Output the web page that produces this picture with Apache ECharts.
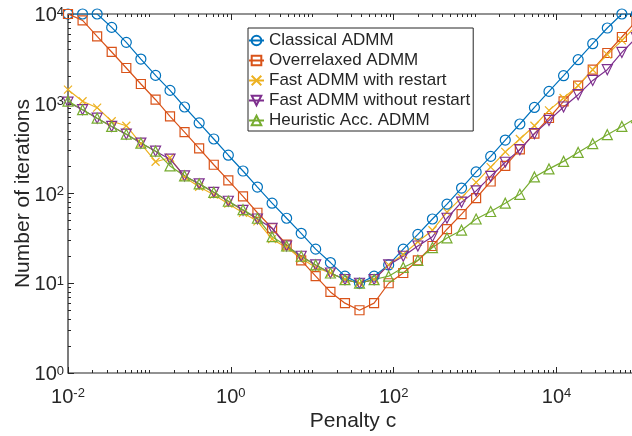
<!DOCTYPE html>
<html>
<head>
<meta charset="utf-8">
<script src="https://cdn.jsdelivr.net/npm/echarts@6/dist/echarts.min.js"></script>
<style>
  html, body { margin: 0; padding: 0; background: #fff; }
  #chart { width: 632px; height: 436px; }
</style>
</head>
<body>
<div id="chart"></div>
<script>
// penalty parameter c (x grid, log spaced)
var penalty = [0.01, 0.0151, 0.0228, 0.0344, 0.052, 0.0785, 0.119, 0.179, 0.270, 0.408,
    0.617, 0.931, 1.41, 2.12, 3.21, 4.84, 7.31, 11.0, 16.7, 25.2,
    38.0, 57.4, 86.7, 131, 198, 299, 451, 681, 1028, 1552,
    2344, 3540, 5346, 8072, 12190, 18410, 27800, 41980, 63390, 95710];

// number of iterations per method
var classical = [10000, 10000, 10000, 7090, 4830, 3150, 2070, 1409, 920, 611,
    405, 267, 178, 118, 78, 53, 36, 24, 17, 12,
    10, 12, 16, 24, 35, 52, 76, 115, 174, 259,
    394, 595, 910, 1373, 2054, 3097, 4669, 6980, 10000, 10000];
var overrelaxed = [10000, 8490, 5625, 3775, 2503, 1660, 1109, 723, 484, 318,
    209, 140, 93, 61, 41, 27, 18, 12, 8, 6,
    5, 6, 10, 13, 18, 26, 40, 59, 89, 136,
    203, 310, 464, 694, 1062, 1589, 2395, 3675, 5545, 8355];
var fastRestart = [1435, 1067, 904, 639, 569, 359, 226, 250, 152, 119,
    97, 77, 61, 49, 31, 25, 19, 15, 13, 11,
    10, 11, 16, 21, 29, 39, 62, 90, 133, 197,
    291, 405, 569, 844, 1159, 1589, 2395, 3521, 5080, 7410];
var fastNoRestart = [1040, 859, 690, 559, 458, 365, 296, 241, 157, 128,
    103, 82, 65, 52, 41, 26, 20, 16, 13, 11,
    10, 11, 16, 20, 26, 33, 53, 80, 107, 155,
    223, 308, 464, 652, 920, 1262, 1820, 2395, 3733, 5445];
var heuristic = [1070, 859, 690, 559, 458, 365, 296, 203, 157, 128,
    103, 82, 66, 53, 33, 26, 20, 16, 13, 11,
    10, 11, 12, 15, 18, 25, 32, 39, 52, 63,
    78, 98, 153, 188, 228, 287, 359, 452, 559, 700];

var names = ['Classical ADMM', 'Overrelaxed ADMM', 'Fast ADMM with restart',
    'Fast ADMM without restart', 'Heuristic Acc. ADMM'];

// tick labels
var xMajor = [0.01, 1, 100, 10000];
var yMajor = [1, 10, 100, 1000, 10000];

var FONT = 'Liberation Sans';
var INK = '#262626';

// minor ticks 2..9 of each decade (plus odd decades on x, as matlab does)
function minorTicks(lo, hi, skip) {
    var out = [];
    for (var d = lo; d < hi; d++) {
        for (var m = 1; m <= 9; m++) {
            var v = m * Math.pow(10, d);
            if (m == 1 && skip.indexOf(v) >= 0) continue;
            out.push(+v.toPrecision(6));
        }
    }
    return out;
}
var xMinor = minorTicks(-2, 5, xMajor);
var yMinor = minorTicks(0, 4, yMajor);

function pairs(ys) {
    var d = [];
    for (var i = 0; i < ys.length; i++) d.push([penalty[i], ys[i]]);
    return d;
}

function supLabel(v) {
    return '{b|10}{s|' + Math.round(Math.log10(v)) + '}';
}
var rich = {
    b: { fontSize: 20, lineHeight: 20, fontFamily: FONT, color: INK },
    s: { fontSize: 13, lineHeight: 10, verticalAlign: 'top', fontFamily: FONT, color: INK }
};

// grid 0 carries the data and the major ticks, grid 1 only the minor ticks
function xAx(grid, pos, ticks, len, withLabel) {
    return {
        type: 'log', gridIndex: grid, position: pos, min: 0.01, max: 100000,
        axisLine: { show: false, onZero: false },
        axisTick: { show: true, inside: true, length: len, customValues: ticks,
            lineStyle: { color: INK, width: 1 } },
        axisLabel: { show: withLabel, customValues: ticks, margin: 14, formatter: supLabel, rich: rich },
        splitLine: { show: false },
        name: withLabel ? 'Penalty c' : '',
        nameLocation: 'middle', nameGap: 38, nameMoveOverlap: false,
        nameTextStyle: { fontSize: 21, fontFamily: FONT, color: INK }
    };
}
function yAx(grid, pos, ticks, len, withLabel) {
    return {
        type: 'log', gridIndex: grid, position: pos, min: 1, max: 10000,
        axisLine: { show: false, onZero: false },
        axisTick: { show: true, inside: true, length: len, customValues: ticks,
            lineStyle: { color: INK, width: 1 } },
        axisLabel: { show: withLabel, customValues: ticks, margin: 4, padding: [3, 0, 0, 0],
            formatter: supLabel, rich: rich },
        splitLine: { show: false },
        name: withLabel ? 'Number of iterations' : '',
        nameLocation: 'middle', nameGap: 34, nameMoveOverlap: false,
        nameTextStyle: { fontSize: 21, fontFamily: FONT, color: INK }
    };
}

function line(name, ys, color, symbol, size, rotate) {
    return {
        name: name, type: 'line', xAxisIndex: 0, yAxisIndex: 0,
        data: pairs(ys),
        symbol: symbol, symbolSize: size, symbolRotate: rotate || 0,
        showAllSymbol: true,
        lineStyle: { color: color, width: 1.2 },
        itemStyle: { color: 'rgba(0,0,0,0)', borderColor: color, borderWidth: 1.2 },
        emphasis: { disabled: true },
        animation: false
    };
}

var myChart = echarts.init(document.getElementById('chart'), null, { renderer: 'canvas' });
function gridBox(border) {
    return { left: 68, top: 14, right: -6, bottom: 63, containLabel: false, outerBoundsMode: 'none',
        show: border, borderColor: INK, borderWidth: 1.2, backgroundColor: 'rgba(0,0,0,0)' };
}

option = {
    backgroundColor: '#fff',
    textStyle: { fontFamily: FONT, color: INK },
    grid: [gridBox(true), gridBox(false)],
    legend: {
        orient: 'vertical', left: 248, top: 28,
        padding: [4, 3, 2, 0],
        itemWidth: 15, itemHeight: 12, itemGap: 3,
        borderColor: INK, borderWidth: 1, backgroundColor: '#fff',
        textStyle: { fontSize: 17, lineHeight: 17, fontFamily: FONT, color: INK },
        data: names
    },
    xAxis: [
        xAx(0, 'bottom', xMajor, 6, true),
        xAx(0, 'top', xMajor, 6, false),
        xAx(1, 'bottom', xMinor, 3, false),
        xAx(1, 'top', xMinor, 3, false)
    ],
    yAxis: [
        yAx(0, 'left', yMajor, 6, true),
        yAx(0, 'right', yMajor, 6, false),
        yAx(1, 'left', yMinor, 3, false),
        yAx(1, 'right', yMinor, 3, false)
    ],
    series: [
        line(names[0], classical, '#0072BD', 'circle', 10),
        line(names[1], overrelaxed, '#D95319', 'rect', 9),
        line(names[2], fastRestart, '#EDB120', 'path://M0,0L10,10M10,0L0,10', 8),
        line(names[3], fastNoRestart, '#7E2F8E', 'triangle', 10, 180),
        line(names[4], heuristic, '#77AC30', 'triangle', 10)
    ]
};

myChart.setOption(option);
</script>
</body>
</html>
